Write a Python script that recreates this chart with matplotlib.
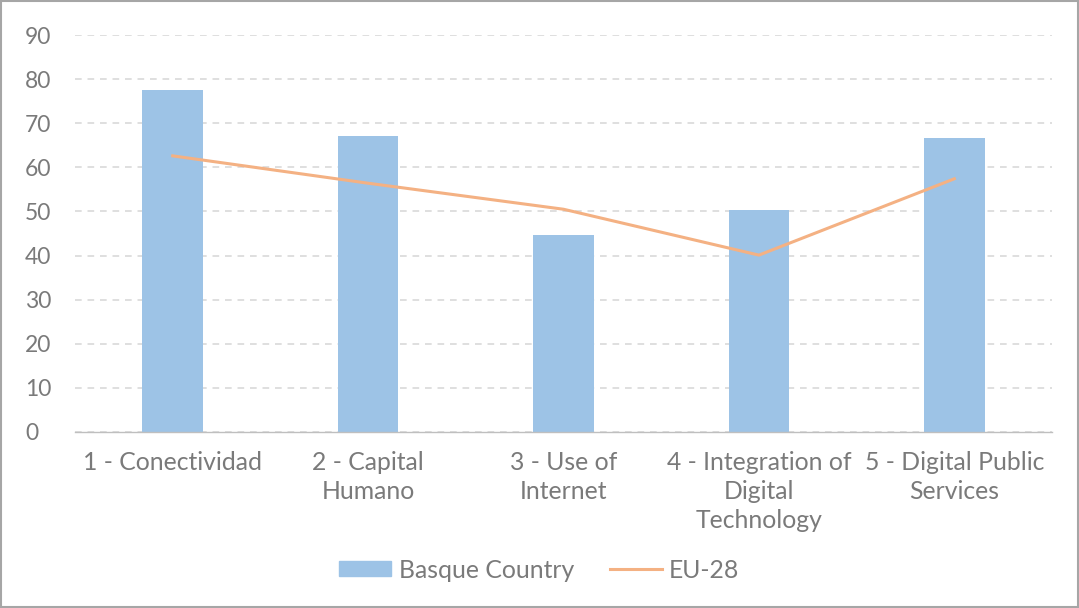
import matplotlib
matplotlib.use("Agg")
import matplotlib.pyplot as plt
from matplotlib.patches import Rectangle, Patch
from matplotlib.lines import Line2D

categories = ["1 - Conectividad", "2 - Capital\nHumano", "3 - Use of\nInternet",
              "4 - Integration of\nDigital\nTechnology", "5 - Digital Public\nServices"]
basque = [77.5, 67.1, 44.7, 50.3, 66.6]
eu28 = [62.6, 56.4, 50.5, 40.1, 57.4]
yticks = [0, 10, 20, 30, 40, 50, 60, 70, 80, 90]

plt.rcParams['font.family'] = ['Lato', 'DejaVu Sans']
txt = '#7a7a7a'
fs = 17.8

fig = plt.figure(figsize=(10.79, 6.08), dpi=100)
ax = fig.add_axes([75/1079, 1-432/608, 977/1079, (432-35)/608])
x = list(range(len(categories)))
ax.bar(x, basque, width=0.31, color='#9DC3E6', label='Basque Country', zorder=2)
ax.plot(x, eu28, color='#F4B183', lw=2.2, label='EU-28', zorder=3)
ax.set_xlim(-0.5, 4.5)
ax.set_ylim(0, 90)
ax.set_yticks(yticks)
ax.yaxis.grid(True, color='#D9D9D9', linestyle=(0, (4, 3.5)), lw=1.2, zorder=0)
ax.set_axisbelow(True)
for s in ['top', 'right', 'left']:
    ax.spines[s].set_visible(False)
ax.spines['bottom'].set_color('#BFBFBF')
ax.spines['bottom'].set_linewidth(1)
ax.tick_params(axis='y', length=0, labelsize=16.5, colors=txt, pad=36)
ax.tick_params(axis='x', length=0, labelsize=fs, colors=txt, pad=14)
ax.set_xticks(x)
ax.set_xticklabels(categories, linespacing=1.3)
for lbl in ax.get_yticklabels():
    lbl.set_horizontalalignment('left')

handles = [Patch(color='#9DC3E6'), Line2D([], [], color='#F4B183', lw=2.2)]
leg = fig.legend(handles, ['Basque Country', 'EU-28'], loc='center',
                 bbox_to_anchor=(0.5, 1-570/608), ncol=2, frameon=False,
                 fontsize=fs, handlelength=2.1, handleheight=0.55, columnspacing=1.45,
                 handletextpad=0.3)
for t in leg.get_texts():
    t.set_color(txt)

fig.patches.append(Rectangle((0.001, 0.001), 0.998, 0.998, transform=fig.transFigure,
                             fill=False, edgecolor='#A6A6A6', lw=1.5))
fig.savefig('out.png', dpi=100)
